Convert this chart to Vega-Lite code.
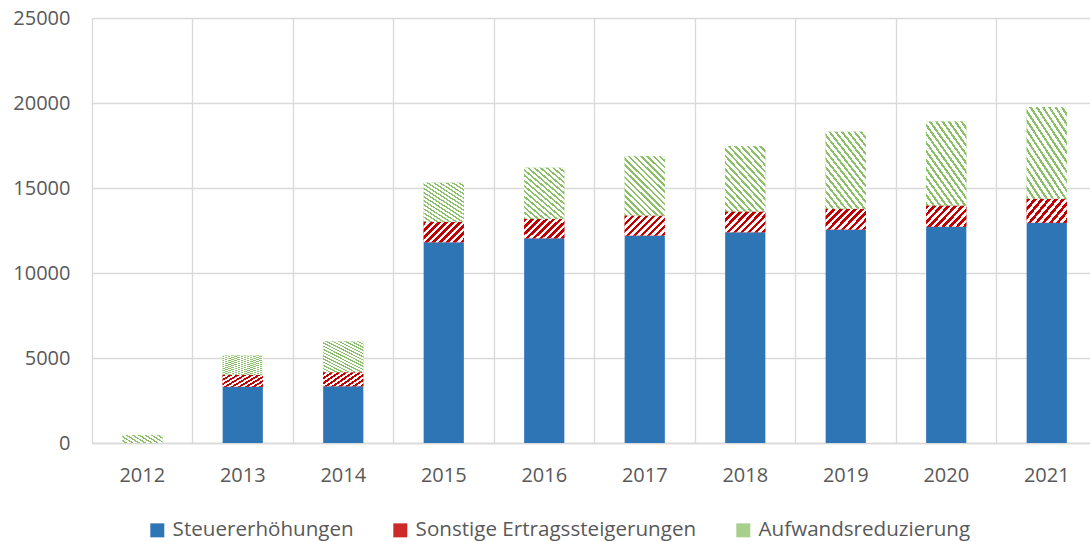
{
  "$schema": "https://vega.github.io/schema/vega-lite/v6.json",
  "autosize": {"type": "none"},
  "padding": {"left": 92, "top": 18, "right": 0, "bottom": 99},
  "width": 998,
  "height": 425,
  "background": "white",
  "config": {
    "view": {"stroke": null},
    "font": "Open Sans",
    "axis": {"labelFont": "Open Sans", "labelColor": "#595959", "labelFontSize": 20, "gridColor": "#d9d9d9", "gridWidth": 1.3, "domain": false, "ticks": false, "tickSize": 0, "title": null}
  },
  "data": {
    "values": [
      {"year": "2012", "series": "Steuererhöhungen", "value": 0},
      {"year": "2012", "series": "Sonstige Ertragssteigerungen", "value": 0},
      {"year": "2012", "series": "Aufwandsreduzierung", "value": 450},
      {"year": "2013", "series": "Steuererhöhungen", "value": 3315},
      {"year": "2013", "series": "Sonstige Ertragssteigerungen", "value": 706},
      {"year": "2013", "series": "Aufwandsreduzierung", "value": 1119},
      {"year": "2014", "series": "Steuererhöhungen", "value": 3333},
      {"year": "2014", "series": "Sonstige Ertragssteigerungen", "value": 824},
      {"year": "2014", "series": "Aufwandsreduzierung", "value": 1807},
      {"year": "2015", "series": "Steuererhöhungen", "value": 11811},
      {"year": "2015", "series": "Sonstige Ertragssteigerungen", "value": 1201},
      {"year": "2015", "series": "Aufwandsreduzierung", "value": 2297},
      {"year": "2016", "series": "Steuererhöhungen", "value": 12047},
      {"year": "2016", "series": "Sonstige Ertragssteigerungen", "value": 1142},
      {"year": "2016", "series": "Aufwandsreduzierung", "value": 3003},
      {"year": "2017", "series": "Steuererhöhungen", "value": 12206},
      {"year": "2017", "series": "Sonstige Ertragssteigerungen", "value": 1177},
      {"year": "2017", "series": "Aufwandsreduzierung", "value": 3492},
      {"year": "2018", "series": "Steuererhöhungen", "value": 12400},
      {"year": "2018", "series": "Sonstige Ertragssteigerungen", "value": 1219},
      {"year": "2018", "series": "Aufwandsreduzierung", "value": 3845},
      {"year": "2019", "series": "Steuererhöhungen", "value": 12559},
      {"year": "2019", "series": "Sonstige Ertragssteigerungen", "value": 1219},
      {"year": "2019", "series": "Aufwandsreduzierung", "value": 4534},
      {"year": "2020", "series": "Steuererhöhungen", "value": 12718},
      {"year": "2020", "series": "Sonstige Ertragssteigerungen", "value": 1254},
      {"year": "2020", "series": "Aufwandsreduzierung", "value": 4946},
      {"year": "2021", "series": "Steuererhöhungen", "value": 12953},
      {"year": "2021", "series": "Sonstige Ertragssteigerungen", "value": 1414},
      {"year": "2021", "series": "Aufwandsreduzierung", "value": 5393}
    ]
  },
  "transform": [
    {"stack": "value", "groupby": ["year"], "sort": [{"field": "series", "order": "descending"}], "as": ["v0", "v1"]}
  ],
  "encoding": {
    "x": {
      "field": "year", "type": "ordinal",
      "scale": {"type": "band", "paddingInner": 0, "paddingOuter": 0, "range": [0, 1005]},
      "axis": {"labelAngle": 0, "grid": true, "bandPosition": 0, "labelPadding": 22, "domain": true, "domainColor": "#d9d9d9", "domainWidth": 1.3, "gridColor": "#d9d9d9"}
    },
    "y": {
      "field": "v0", "type": "quantitative",
      "scale": {"domain": [0, 25000], "nice": false},
      "axis": {"values": [0, 5000, 10000, 15000, 20000, 25000], "format": "d", "labelPadding": 22, "grid": true}
    },
    "y2": {"field": "v1"}
  },
  "layer": [
    {
      "mark": {"type": "bar", "width": {"band": 0.4}},
      "encoding": {
        "color": {
          "field": "series", "type": "nominal",
          "scale": {"domain": ["Steuererhöhungen", "Sonstige Ertragssteigerungen", "Aufwandsreduzierung"], "range": ["#2E75B6", "#CC2A2A", "#A8D08D"]},
          "legend": {
            "orient": "none", "legendX": 55, "legendY": 502, "direction": "horizontal", "title": null,
            "symbolType": "square", "symbolSize": 196, "symbolStrokeWidth": 0,
            "labelFont": "Open Sans", "labelFontSize": 20.6, "labelColor": "#595959", "labelOffset": 5, "labelLimit": 500, "columnPadding": 36
          }
        }
      }
    },
    {
      "transform": [{"filter": "datum.series === 'Sonstige Ertragssteigerungen'"}],
      "mark": {
        "type": "bar", "width": {"band": 0.4},
        "fill": {
          "gradient": "linear", "x1": 0, "y1": 0, "x2": 1.4, "y2": 0.7,
          "stops": [
            {"offset": 0, "color": "#C00000"}, {"offset": 0.05, "color": "#C00000"}, {"offset": 0.05, "color": "#FFFFFF"}, {"offset": 0.1, "color": "#FFFFFF"},
            {"offset": 0.1, "color": "#C00000"}, {"offset": 0.15, "color": "#C00000"}, {"offset": 0.15, "color": "#FFFFFF"}, {"offset": 0.2, "color": "#FFFFFF"},
            {"offset": 0.2, "color": "#C00000"}, {"offset": 0.25, "color": "#C00000"}, {"offset": 0.25, "color": "#FFFFFF"}, {"offset": 0.3, "color": "#FFFFFF"},
            {"offset": 0.3, "color": "#C00000"}, {"offset": 0.35, "color": "#C00000"}, {"offset": 0.35, "color": "#FFFFFF"}, {"offset": 0.4, "color": "#FFFFFF"},
            {"offset": 0.4, "color": "#C00000"}, {"offset": 0.45, "color": "#C00000"}, {"offset": 0.45, "color": "#FFFFFF"}, {"offset": 0.5, "color": "#FFFFFF"},
            {"offset": 0.5, "color": "#C00000"}, {"offset": 0.55, "color": "#C00000"}, {"offset": 0.55, "color": "#FFFFFF"}, {"offset": 0.6, "color": "#FFFFFF"},
            {"offset": 0.6, "color": "#C00000"}, {"offset": 0.65, "color": "#C00000"}, {"offset": 0.65, "color": "#FFFFFF"}, {"offset": 0.7, "color": "#FFFFFF"},
            {"offset": 0.7, "color": "#C00000"}, {"offset": 0.75, "color": "#C00000"}, {"offset": 0.75, "color": "#FFFFFF"}, {"offset": 0.8, "color": "#FFFFFF"},
            {"offset": 0.8, "color": "#C00000"}, {"offset": 0.85, "color": "#C00000"}, {"offset": 0.85, "color": "#FFFFFF"}, {"offset": 0.9, "color": "#FFFFFF"},
            {"offset": 0.9, "color": "#C00000"}, {"offset": 0.95, "color": "#C00000"}, {"offset": 0.95, "color": "#FFFFFF"}, {"offset": 1, "color": "#FFFFFF"}
          ]
        }
      }
    },
    {
      "transform": [{"filter": "datum.series === 'Aufwandsreduzierung'"}],
      "mark": {
        "type": "bar", "width": {"band": 0.4},
        "fill": {
          "gradient": "linear", "x1": 0, "y1": 1, "x2": 0.769, "y2": -0.154,
          "stops": [
            {"offset": 0, "color": "#8CC068"}, {"offset": 0.025, "color": "#8CC068"}, {"offset": 0.025, "color": "#FFFFFF"}, {"offset": 0.0625, "color": "#FFFFFF"},
            {"offset": 0.0625, "color": "#8CC068"}, {"offset": 0.0875, "color": "#8CC068"}, {"offset": 0.0875, "color": "#FFFFFF"}, {"offset": 0.125, "color": "#FFFFFF"},
            {"offset": 0.125, "color": "#8CC068"}, {"offset": 0.15, "color": "#8CC068"}, {"offset": 0.15, "color": "#FFFFFF"}, {"offset": 0.1875, "color": "#FFFFFF"},
            {"offset": 0.1875, "color": "#8CC068"}, {"offset": 0.2125, "color": "#8CC068"}, {"offset": 0.2125, "color": "#FFFFFF"}, {"offset": 0.25, "color": "#FFFFFF"},
            {"offset": 0.25, "color": "#8CC068"}, {"offset": 0.275, "color": "#8CC068"}, {"offset": 0.275, "color": "#FFFFFF"}, {"offset": 0.3125, "color": "#FFFFFF"},
            {"offset": 0.3125, "color": "#8CC068"}, {"offset": 0.3375, "color": "#8CC068"}, {"offset": 0.3375, "color": "#FFFFFF"}, {"offset": 0.375, "color": "#FFFFFF"},
            {"offset": 0.375, "color": "#8CC068"}, {"offset": 0.4, "color": "#8CC068"}, {"offset": 0.4, "color": "#FFFFFF"}, {"offset": 0.4375, "color": "#FFFFFF"},
            {"offset": 0.4375, "color": "#8CC068"}, {"offset": 0.4625, "color": "#8CC068"}, {"offset": 0.4625, "color": "#FFFFFF"}, {"offset": 0.5, "color": "#FFFFFF"},
            {"offset": 0.5, "color": "#8CC068"}, {"offset": 0.525, "color": "#8CC068"}, {"offset": 0.525, "color": "#FFFFFF"}, {"offset": 0.5625, "color": "#FFFFFF"},
            {"offset": 0.5625, "color": "#8CC068"}, {"offset": 0.5875, "color": "#8CC068"}, {"offset": 0.5875, "color": "#FFFFFF"}, {"offset": 0.625, "color": "#FFFFFF"},
            {"offset": 0.625, "color": "#8CC068"}, {"offset": 0.65, "color": "#8CC068"}, {"offset": 0.65, "color": "#FFFFFF"}, {"offset": 0.6875, "color": "#FFFFFF"},
            {"offset": 0.6875, "color": "#8CC068"}, {"offset": 0.7125, "color": "#8CC068"}, {"offset": 0.7125, "color": "#FFFFFF"}, {"offset": 0.75, "color": "#FFFFFF"},
            {"offset": 0.75, "color": "#8CC068"}, {"offset": 0.775, "color": "#8CC068"}, {"offset": 0.775, "color": "#FFFFFF"}, {"offset": 0.8125, "color": "#FFFFFF"},
            {"offset": 0.8125, "color": "#8CC068"}, {"offset": 0.8375, "color": "#8CC068"}, {"offset": 0.8375, "color": "#FFFFFF"}, {"offset": 0.875, "color": "#FFFFFF"},
            {"offset": 0.875, "color": "#8CC068"}, {"offset": 0.9, "color": "#8CC068"}, {"offset": 0.9, "color": "#FFFFFF"}, {"offset": 0.9375, "color": "#FFFFFF"},
            {"offset": 0.9375, "color": "#8CC068"}, {"offset": 0.9625, "color": "#8CC068"}, {"offset": 0.9625, "color": "#FFFFFF"}, {"offset": 1, "color": "#FFFFFF"}
          ]
        }
      }
    }
  ]
}
